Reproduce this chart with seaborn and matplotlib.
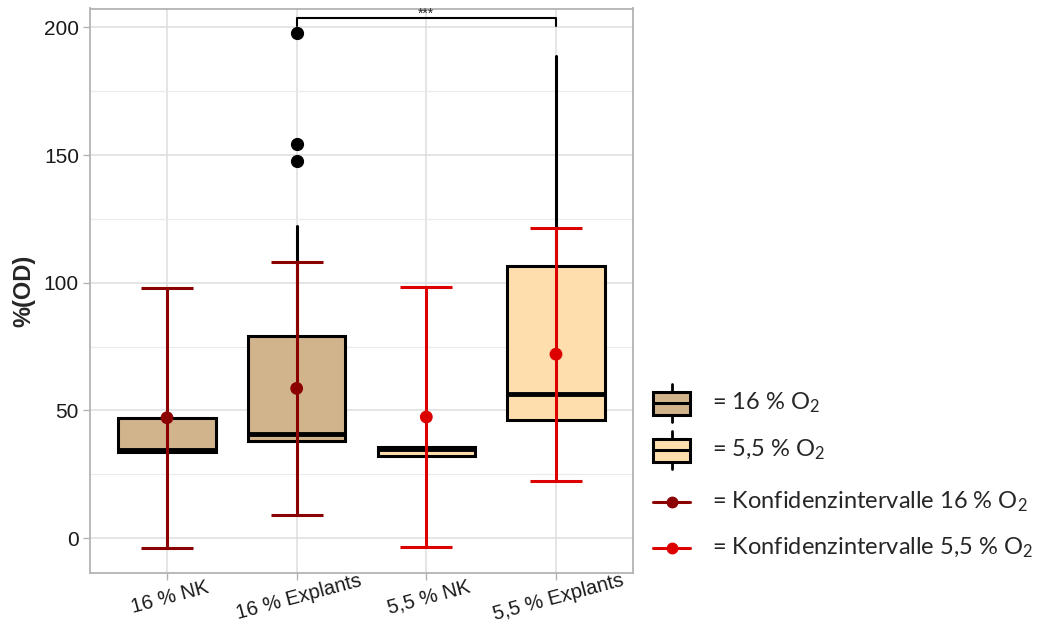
import matplotlib
matplotlib.use("Agg")
import matplotlib.pyplot as plt
from matplotlib.ticker import MultipleLocator
import seaborn as sns
import pandas as pd

# Data
groups = ["16 % NK", "16 % Explants", "5,5 % NK", "5,5 % Explants"]
oxygen = ["16", "16", "5,5", "5,5"]
q1 = [33.6, 37.9, 32.1, 46.2]
median = [34.5, 40.7, 34.8, 56.4]
q3 = [47.1, 79.1, 35.8, 106.6]
whisker_lo = [33.6, 37.9, 32.1, 46.2]
whisker_hi = [47.1, 122.2, 35.8, 188.8]
outliers = [[], [147.7, 154.4, 197.7], [], []]
mean = [47.1, 58.6, 47.4, 72.0]
ci_lo = [-4.0, 9.0, -3.6, 22.3]
ci_hi = [97.9, 108.3, 98.5, 121.6]
signif_pair = (1, 3)
signif_label = "***"

box_colors = {"16": "#D2B48C", "5,5": "#FFDEAD"}
ci_colors = {"16": "#8B0000", "5,5": "#DD0000"}

sns.set_theme(style="whitegrid")
plt.rcParams["font.family"] = ["Liberation Sans", "DejaVu Sans"]

fig = plt.figure(figsize=(10.41, 6.22), dpi=100)
ax = fig.add_axes([90 / 1041, 1 - 573 / 622, 543 / 1041, 564.5 / 622])

# boxes
stats = []
for i in range(len(groups)):
    stats.append(dict(q1=q1[i], med=median[i], q3=q3[i], whislo=whisker_lo[i],
                      whishi=whisker_hi[i], fliers=outliers[i], label=groups[i]))
bp = ax.bxp(stats, positions=range(len(groups)), widths=0.75, patch_artist=True,
            showcaps=False,
            boxprops=dict(edgecolor="black", linewidth=2.2),
            medianprops=dict(color="black", linewidth=3.5),
            whiskerprops=dict(color="black", linewidth=2.2),
            flierprops=dict(marker="o", markerfacecolor="black", markeredgecolor="black",
                            markersize=8.5))
for patch, ox in zip(bp["boxes"], oxygen):
    patch.set_facecolor(box_colors[ox])

# confidence intervals + means
df = pd.DataFrame({"group": groups, "oxygen": oxygen, "mean": mean,
                   "lo": ci_lo, "hi": ci_hi, "pos": range(len(groups))})
for _, r in df.iterrows():
    c = ci_colors[r["oxygen"]]
    ax.errorbar(r["pos"], r["mean"], yerr=[[r["mean"] - r["lo"]], [r["hi"] - r["mean"]]],
                fmt="none", ecolor=c, elinewidth=2.2, capsize=19, capthick=2.2, zorder=4)
sns.scatterplot(data=df, x="pos", y="mean", hue="oxygen", palette=ci_colors,
                s=85, edgecolor="none", legend=False, zorder=5, ax=ax)

# significance bracket
a, b = signif_pair
ax.plot([a, a, b, b], [200.5, 203.6, 203.6, 200.5], color="black", lw=1.5, clip_on=False)
ax.text((a + b) / 2, 202.6, signif_label, ha="center", va="bottom", fontsize=10)

# axes styling (ggplot theme_light look)
ax.set_xlim(-0.594, 3.594)
ax.set_ylim(-13.7, 207.4)
ax.yaxis.set_major_locator(MultipleLocator(50))
ax.yaxis.set_minor_locator(MultipleLocator(25))
ax.set_xticks(range(len(groups)))
ax.set_xticklabels(groups, rotation=15, ha="center", va="top", rotation_mode="anchor",
                   fontsize=14.5, color="#1A1A1A")
ax.tick_params(axis="y", labelsize=15, labelcolor="#1A1A1A")
ax.tick_params(which="major", length=5, width=1, color="#B3B3B3", direction="out",
               bottom=True, left=True, pad=3)
ax.tick_params(axis="x", pad=6)
ax.tick_params(which="minor", length=0)
ax.grid(which="major", color="#DEDEDE", linewidth=1.1)
ax.grid(which="minor", axis="y", color="#EBEBEB", linewidth=0.8)
ax.xaxis.grid(True)
ax.set_facecolor("white")
for s in ax.spines.values():
    s.set_color("#B3B3B3")
    s.set_linewidth(1.3)
ax.set_xlabel("")
ax.set_ylabel("%(OD)", fontsize=17, fontweight="bold", labelpad=6)

# custom legend on the right, in pixel space
lg = fig.add_axes([0, 0, 1, 1], facecolor="none")
lg.set_xlim(0, 1041)
lg.set_ylim(622, 0)
lg.axis("off")
legend_font = ["Lato", "DejaVu Sans"]
box_rows = [("16", 403, "= 16 % O$\\mathregular{_2}$"),
            ("5,5", 450, "= 5,5 % O$\\mathregular{_2}$")]
for ox, yc, label in box_rows:
    lg.plot([672, 672], [yc - 19, yc + 19], color="black", lw=2, zorder=1)
    lg.add_patch(plt.Rectangle((653, yc - 11.5), 37, 23, facecolor=box_colors[ox],
                               edgecolor="black", lw=2.2, zorder=2))
    lg.plot([653, 690], [yc, yc], color="black", lw=2.2, zorder=3)
    lg.text(712, yc, label, va="center", ha="left", fontsize=17, family=legend_font)
line_rows = [("16", 502, "= Konfidenzintervalle 16 % O$\\mathregular{_2}$"),
             ("5,5", 548, "= Konfidenzintervalle 5,5 % O$\\mathregular{_2}$")]
for ox, yc, label in line_rows:
    lg.plot([653, 690], [yc, yc], color=ci_colors[ox], lw=2.2)
    lg.plot([672], [yc], "o", color=ci_colors[ox], markersize=7.5)
    lg.text(712, yc, label, va="center", ha="left", fontsize=17, family=legend_font)

fig.savefig("out.png", dpi=100)
